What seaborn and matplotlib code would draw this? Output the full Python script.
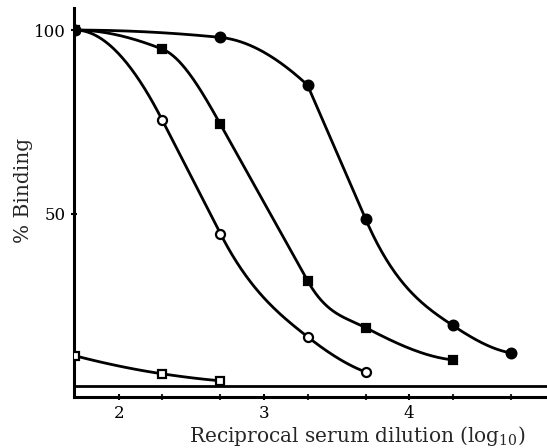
import numpy as np
import pandas as pd
import matplotlib
matplotlib.use("Agg")
import matplotlib.pyplot as plt
import seaborn as sns

# ---- data ----
x_filled_circle = [1.7, 2.7, 3.3, 3.7, 4.3, 4.7]
y_filled_circle = [100, 98, 85, 48.5, 19.5, 12]

x_filled_square = [1.7, 2.3, 2.7, 3.3, 3.7, 4.3]
y_filled_square = [100, 94.8, 74.3, 31.7, 18.9, 10.1]

x_open_circle = [1.7, 2.3, 2.7, 3.3, 3.7]
y_open_circle = [100, 75.4, 44.5, 16.4, 6.8]

x_open_square = [1.7, 2.3, 2.7]
y_open_square = [11.2, 6.3, 4.4]

baseline_level = 3.0

x_major_ticks = [2, 3, 4]
x_minor_ticks = [2.3, 2.7, 3.3, 3.7, 4.3, 4.7]
y_ticks = [50, 100]


def hand_curve(x, y, flat_start=False, n=60):
    """Monotone piecewise-cubic curve through the points, mimicking a
    French-curve drawing: steep chords are drawn straight."""
    x = np.asarray(x, float); y = np.asarray(y, float)
    N = len(x); h = np.diff(x); d = np.diff(y) / h
    m = np.zeros(N)
    for k in range(1, N - 1):
        if d[k - 1] * d[k] > 0:
            w1 = 2 * h[k] + h[k - 1]; w2 = h[k] + 2 * h[k - 1]
            m[k] = (w1 + w2) / (w1 / d[k - 1] + w2 / d[k])
    if N > 2:
        e0 = ((2 * h[0] + h[1]) * d[0] - h[0] * d[1]) / (h[0] + h[1])
        e1 = ((2 * h[-1] + h[-2]) * d[-1] - h[-1] * d[-2]) / (h[-1] + h[-2])
        m[0] = e0 if np.sign(e0) == np.sign(d[0]) else 0
        m[-1] = e1 if np.sign(e1) == np.sign(d[-1]) else 0
    else:
        m[:] = d[0]
    if flat_start:
        m[0] = 0.0
    mL = m[:-1].copy(); mR = m[1:].copy()

    def ok(a, b, dk):
        return (a / dk) ** 2 + (b / dk) ** 2 <= 9
    for k in range(N - 1):
        if abs(d[k]) > max(abs(m[k]), abs(m[k + 1])):
            mL[k] = mR[k] = d[k]
            if k > 0 and ok(mL[k - 1], d[k], d[k - 1]):
                mR[k - 1] = d[k]
            if k < N - 2 and ok(d[k], mR[k + 1], d[k + 1]):
                mL[k + 1] = d[k]
    xs_all, ys_all = [], []
    for k in range(N - 1):
        t = np.linspace(0, 1, n)
        h00 = 2 * t**3 - 3 * t**2 + 1; h10 = t**3 - 2 * t**2 + t
        h01 = -2 * t**3 + 3 * t**2; h11 = t**3 - t**2
        ys = h00 * y[k] + h10 * h[k] * mL[k] + h01 * y[k + 1] + h11 * h[k] * mR[k]
        xs_all.append(x[k] + t * h[k]); ys_all.append(ys)
    return np.concatenate(xs_all), np.concatenate(ys_all)


sns.set_style("ticks")
plt.rcParams["font.family"] = ["DejaVu Serif"]
plt.rcParams["mathtext.fontset"] = "dejavuserif"

fig = plt.figure(figsize=(5.47, 4.48), dpi=100)
ax = fig.add_axes([0.135, 0.114, 0.865, 0.868])

# (x, y, marker, face, size, flat start, marker zorder)
series = [
    (x_open_square, y_open_square, "s", "white", 6, False, 3),
    (x_open_circle, y_open_circle, "o", "white", 6.5, True, 3),
    (x_filled_square, y_filled_square, "s", "black", 6, True, 4),
    (x_filled_circle, y_filled_circle, "o", "black", 7, True, 5),
]

for xv, yv, mk, fc, ms, flat, zo in series:
    xs, ys = hand_curve(xv, yv, flat)
    sns.lineplot(x=xs, y=ys, ax=ax, color="black", lw=2.0, sort=False, zorder=2)
    ax.plot(xv, yv, linestyle="none", marker=mk, markersize=ms,
            markerfacecolor=fc, markeredgecolor="black", markeredgewidth=1.6, zorder=zo)

ax.axhline(baseline_level, color="black", lw=2.0, zorder=1)

ax.set_xlim(1.69, 4.95)
ax.set_ylim(0, 106)
ax.set_xticks(x_major_ticks)
ax.set_xticks(x_minor_ticks, minor=True)
ax.set_yticks(y_ticks)
ax.tick_params(axis="both", which="major", direction="inout", length=5, width=1.5,
               labelsize=12, colors="black", pad=3)
ax.tick_params(axis="x", which="minor", direction="inout", length=4, width=1.5)

for s in ["top", "right"]:
    ax.spines[s].set_visible(False)
for s in ["left", "bottom"]:
    ax.spines[s].set_linewidth(2.2)
    ax.spines[s].set_color("black")

ax.set_xlabel("Reciprocal serum dilution (log$_{10}$)", fontsize=14.5)
ax.xaxis.set_label_coords(0.599, -0.069)
ax.set_ylabel("% Binding", fontsize=14.5)
ax.yaxis.set_label_coords(-0.087, 0.532)

fig.savefig("out.png", dpi=100)
